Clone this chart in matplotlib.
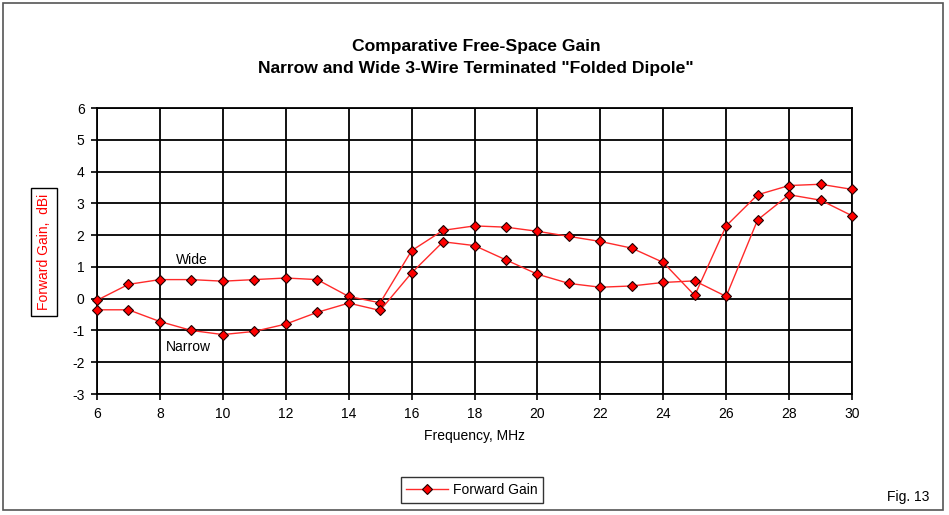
import matplotlib
matplotlib.use("Agg")
import matplotlib.pyplot as plt
from matplotlib.patches import Rectangle

plt.rcParams['font.family'] = ['Liberation Sans', 'DejaVu Sans']
plt.rcParams['axes.unicode_minus'] = False

freq = list(range(6, 31))
wide = [-0.05, 0.45, 0.60, 0.60, 0.55, 0.60, 0.65, 0.60, 0.07, -0.13,
        1.51, 2.15, 2.29, 2.25, 2.12, 1.96, 1.80, 1.59, 1.14, 0.10,
        2.29, 3.27, 3.56, 3.60, 3.44]
narrow = [-0.35, -0.35, -0.72, -1.00, -1.13, -1.03, -0.80, -0.43, -0.14, -0.37,
          0.81, 1.79, 1.67, 1.22, 0.77, 0.48, 0.36, 0.40, 0.51, 0.56,
          0.07, 2.48, 3.27, 3.10, 2.61]
xticks = list(range(6, 31, 2))
yticks = list(range(-3, 7))

W, H = 949, 515
fig = plt.figure(figsize=(W / 100, H / 100), dpi=100)
fig.patch.set_facecolor('white')

# outer chart border
fig.add_artist(Rectangle((3 / W, 1 - 510 / H), 940 / W, 507 / H, transform=fig.transFigure,
                         fill=False, edgecolor='#555555', linewidth=1.2))

L, R, T, B = 97, 852, 108, 394
ax = fig.add_axes([L / W, 1 - B / H, (R - L) / W, (B - T) / H])

mk = dict(marker='D', markersize=5, markerfacecolor='red', markeredgecolor='#200000',
          markeredgewidth=0.8)
ax.plot(freq, wide, color='#ff2a2a', linewidth=1.0, label='Forward Gain', zorder=3, clip_on=False, **mk)
ax.plot(freq, narrow, color='#ff2a2a', linewidth=1.0, label='_nolegend_', zorder=3, clip_on=False, **mk)

ax.set_xlim(6, 30)
ax.set_ylim(-3, 6)
ax.set_xticks(xticks)
ax.set_yticks(yticks)
ax.grid(True, color='black', linewidth=1.3)
ax.set_axisbelow(True)
for s in ax.spines.values():
    s.set_color('black')
    s.set_linewidth(1.3)
ax.tick_params(direction='out', length=4, width=1.2, labelsize=10, colors='black', pad=5)
ax.set_xlabel('Frequency, MHz', fontsize=10, labelpad=6)

ax.text(9, 1.22, 'Wide', ha='center', va='center', fontsize=10)
ax.text(8.9, -1.52, 'Narrow', ha='center', va='center', fontsize=10)

fig.text(476 / W, 1 - 47 / H, 'Comparative Free-Space Gain', ha='center', va='center',
         fontsize=12.6, fontweight='bold')
fig.text(476 / W, 1 - 69 / H, 'Narrow and Wide 3-Wire Terminated "Folded Dipole"', ha='center',
         va='center', fontsize=12.6, fontweight='bold')

fig.text(44 / W, 1 - 252 / H, 'Forward Gain,  dBi', rotation=90, ha='center', va='center',
         color='red', fontsize=10,
         bbox=dict(boxstyle='square,pad=0.45', facecolor='white', edgecolor='black', linewidth=1))

leg = fig.legend(loc='center', bbox_to_anchor=(472 / W, 1 - 490 / H), fontsize=10,
                 frameon=True, fancybox=False, edgecolor='black', handlelength=3.0,
                 borderpad=0.4, handletextpad=0.4, borderaxespad=0)
leg.get_frame().set_linewidth(1)

fig.text(908 / W, 1 - 497 / H, 'Fig. 13', ha='center', va='center', fontsize=10)

fig.savefig('out.png', dpi=100, facecolor='white')
